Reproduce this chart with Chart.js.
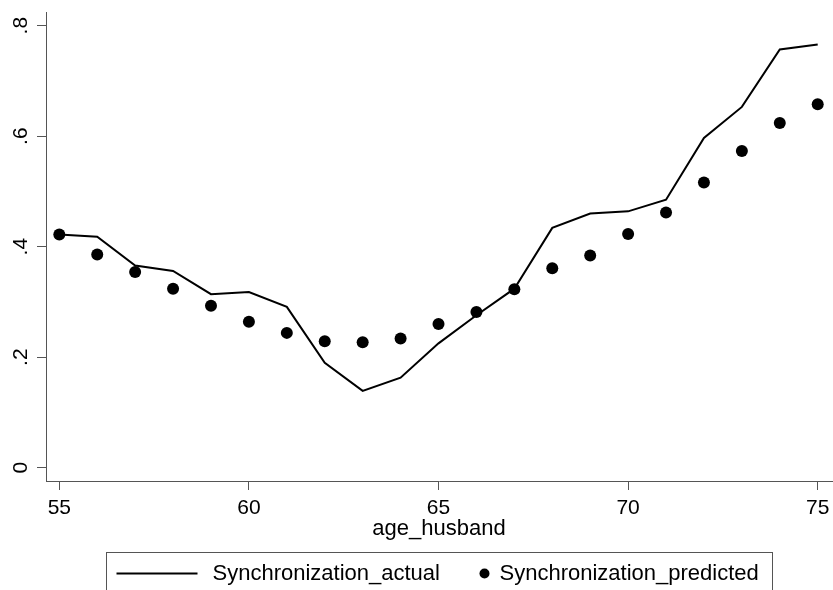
<!DOCTYPE html>
<html>
<head>
<meta charset="utf-8">
<script src="https://cdn.jsdelivr.net/npm/chart.js@4.4.1/dist/chart.umd.min.js"></script>
<style>
html, body { margin: 0; padding: 0; background: #fff; }
#wrap { width: 833px; height: 590px; position: relative; }
</style>
</head>
<body>
<div id="wrap"><canvas id="myChart"></canvas></div>
<script>
"use strict";
const ages = [55, 56, 57, 58, 59, 60, 61, 62, 63, 64, 65, 66, 67, 68, 69, 70, 71, 72, 73, 74, 75];
const syncActual = [0.422, 0.418, 0.366, 0.356, 0.314, 0.318, 0.291, 0.190, 0.139, 0.163, 0.225,
    0.276, 0.324, 0.434, 0.460, 0.464, 0.485, 0.597, 0.653, 0.757, 0.766];
const syncPredicted = [0.422, 0.386, 0.354, 0.324, 0.293, 0.264, 0.244, 0.229, 0.227, 0.234, 0.260,
    0.282, 0.323, 0.361, 0.384, 0.423, 0.462, 0.516, 0.573, 0.624, 0.658];
const xTicks = [55, 60, 65, 70, 75];
const yTicks = [0, 0.2, 0.4, 0.6, 0.8];
const seriesNames = ["Synchronization_actual", "Synchronization_predicted"];
const xTitle = "age_husband";

const fontFamily = '"Liberation Sans", Arial, Helvetica, sans-serif';
const axisColor = "#555";

function fmtY(v) {
    if (v === 0) return "0";
    return String(Math.round(v * 10) / 10).replace(/^0/, "");
}

// y labels are drawn turned, reading bottom to top
const yLabelPlugin = {
    id: "yLabels",
    afterDraw(chart) {
        const ctx = chart.ctx;
        const y = chart.scales.y;
        ctx.save();
        ctx.font = "21px " + fontFamily;
        ctx.fillStyle = "#000";
        ctx.textAlign = "center";
        ctx.textBaseline = "alphabetic";
        y.ticks.forEach(t => {
            const py = y.getPixelForValue(t.value);
            ctx.save();
            ctx.translate(y.right - 19, py);
            ctx.rotate(-Math.PI / 2);
            ctx.fillText(fmtY(t.value), 0, 0);
            ctx.restore();
        });
        ctx.restore();
    }
};

// boxed legend under the axis title
const legendPlugin = {
    id: "boxLegend",
    afterDraw(chart) {
        const ctx = chart.ctx;
        const area = chart.chartArea;
        const cx = (area.left + area.right) / 2;
        const left = Math.round(cx - 333) + 0.5;
        const top = 552.5;
        const midY = 573.5;
        ctx.save();
        ctx.strokeStyle = axisColor;
        ctx.lineWidth = 1;
        ctx.strokeRect(left, top, 666, 60);

        ctx.strokeStyle = "#000";
        ctx.lineWidth = 2;
        ctx.beginPath();
        ctx.moveTo(left + 10, midY);
        ctx.lineTo(left + 91, midY);
        ctx.stroke();

        ctx.font = "22px " + fontFamily;
        ctx.fillStyle = "#000";
        ctx.textBaseline = "middle";
        ctx.textAlign = "left";
        ctx.fillText(seriesNames[0], left + 106, midY);

        ctx.beginPath();
        ctx.arc(left + 378, midY, 5, 0, Math.PI * 2);
        ctx.fill();
        ctx.fillText(seriesNames[1], left + 393, midY);
        ctx.restore();
    }
};

const actualPoints = ages.map((a, i) => ({ x: a, y: syncActual[i] }));
const predictedPoints = ages.map((a, i) => ({ x: a, y: syncPredicted[i] }));

new Chart(document.getElementById("myChart"), {
    type: "line",
    data: {
        datasets: [
            {
                label: seriesNames[0],
                data: actualPoints,
                borderColor: "#000",
                borderWidth: 2,
                pointRadius: 0,
                tension: 0,
                fill: false
            },
            {
                label: seriesNames[1],
                data: predictedPoints,
                showLine: false,
                borderColor: "#000",
                backgroundColor: "#000",
                pointRadius: 6,
                pointBorderWidth: 0
            }
        ]
    },
    options: {
        responsive: true,
        maintainAspectRatio: false,
        animation: false,
        layout: { autoPadding: false, padding: { top: 12, right: 1, bottom: 48, left: 0 } },
        plugins: {
            legend: { display: false },
            tooltip: { enabled: false }
        },
        scales: {
            x: {
                type: "linear",
                min: 54.649,
                max: 75.377,
                afterBuildTicks: s => { s.ticks = xTicks.map(v => ({ value: v })); },
                afterFit: s => {
                    s.height = 61;
                    s.paddingLeft = 0;
                    s.paddingRight = 0;
                },
                ticks: {
                    color: "#000",
                    padding: 6,
                    maxRotation: 0,
                    font: { family: fontFamily, size: 21 },
                    callback: v => String(v)
                },
                grid: { display: true, drawOnChartArea: false, drawTicks: true, tickLength: 9, color: axisColor },
                border: { display: true, color: axisColor, width: 1 },
                title: {
                    display: true,
                    text: xTitle,
                    color: "#000",
                    padding: 0,
                    font: { family: fontFamily, size: 22 }
                }
            },
            y: {
                type: "linear",
                min: -0.0241,
                max: 0.8248,
                afterBuildTicks: s => { s.ticks = yTicks.map(v => ({ value: v })); },
                afterFit: s => {
                    s.width = 46;
                    s.paddingTop = 0;
                    s.paddingBottom = 0;
                },
                ticks: { display: false },
                grid: { display: true, drawOnChartArea: false, drawTicks: true, tickLength: 9, color: axisColor },
                border: { display: true, color: axisColor, width: 1 }
            }
        }
    },
    plugins: [yLabelPlugin, legendPlugin]
});
</script>
</body>
</html>
